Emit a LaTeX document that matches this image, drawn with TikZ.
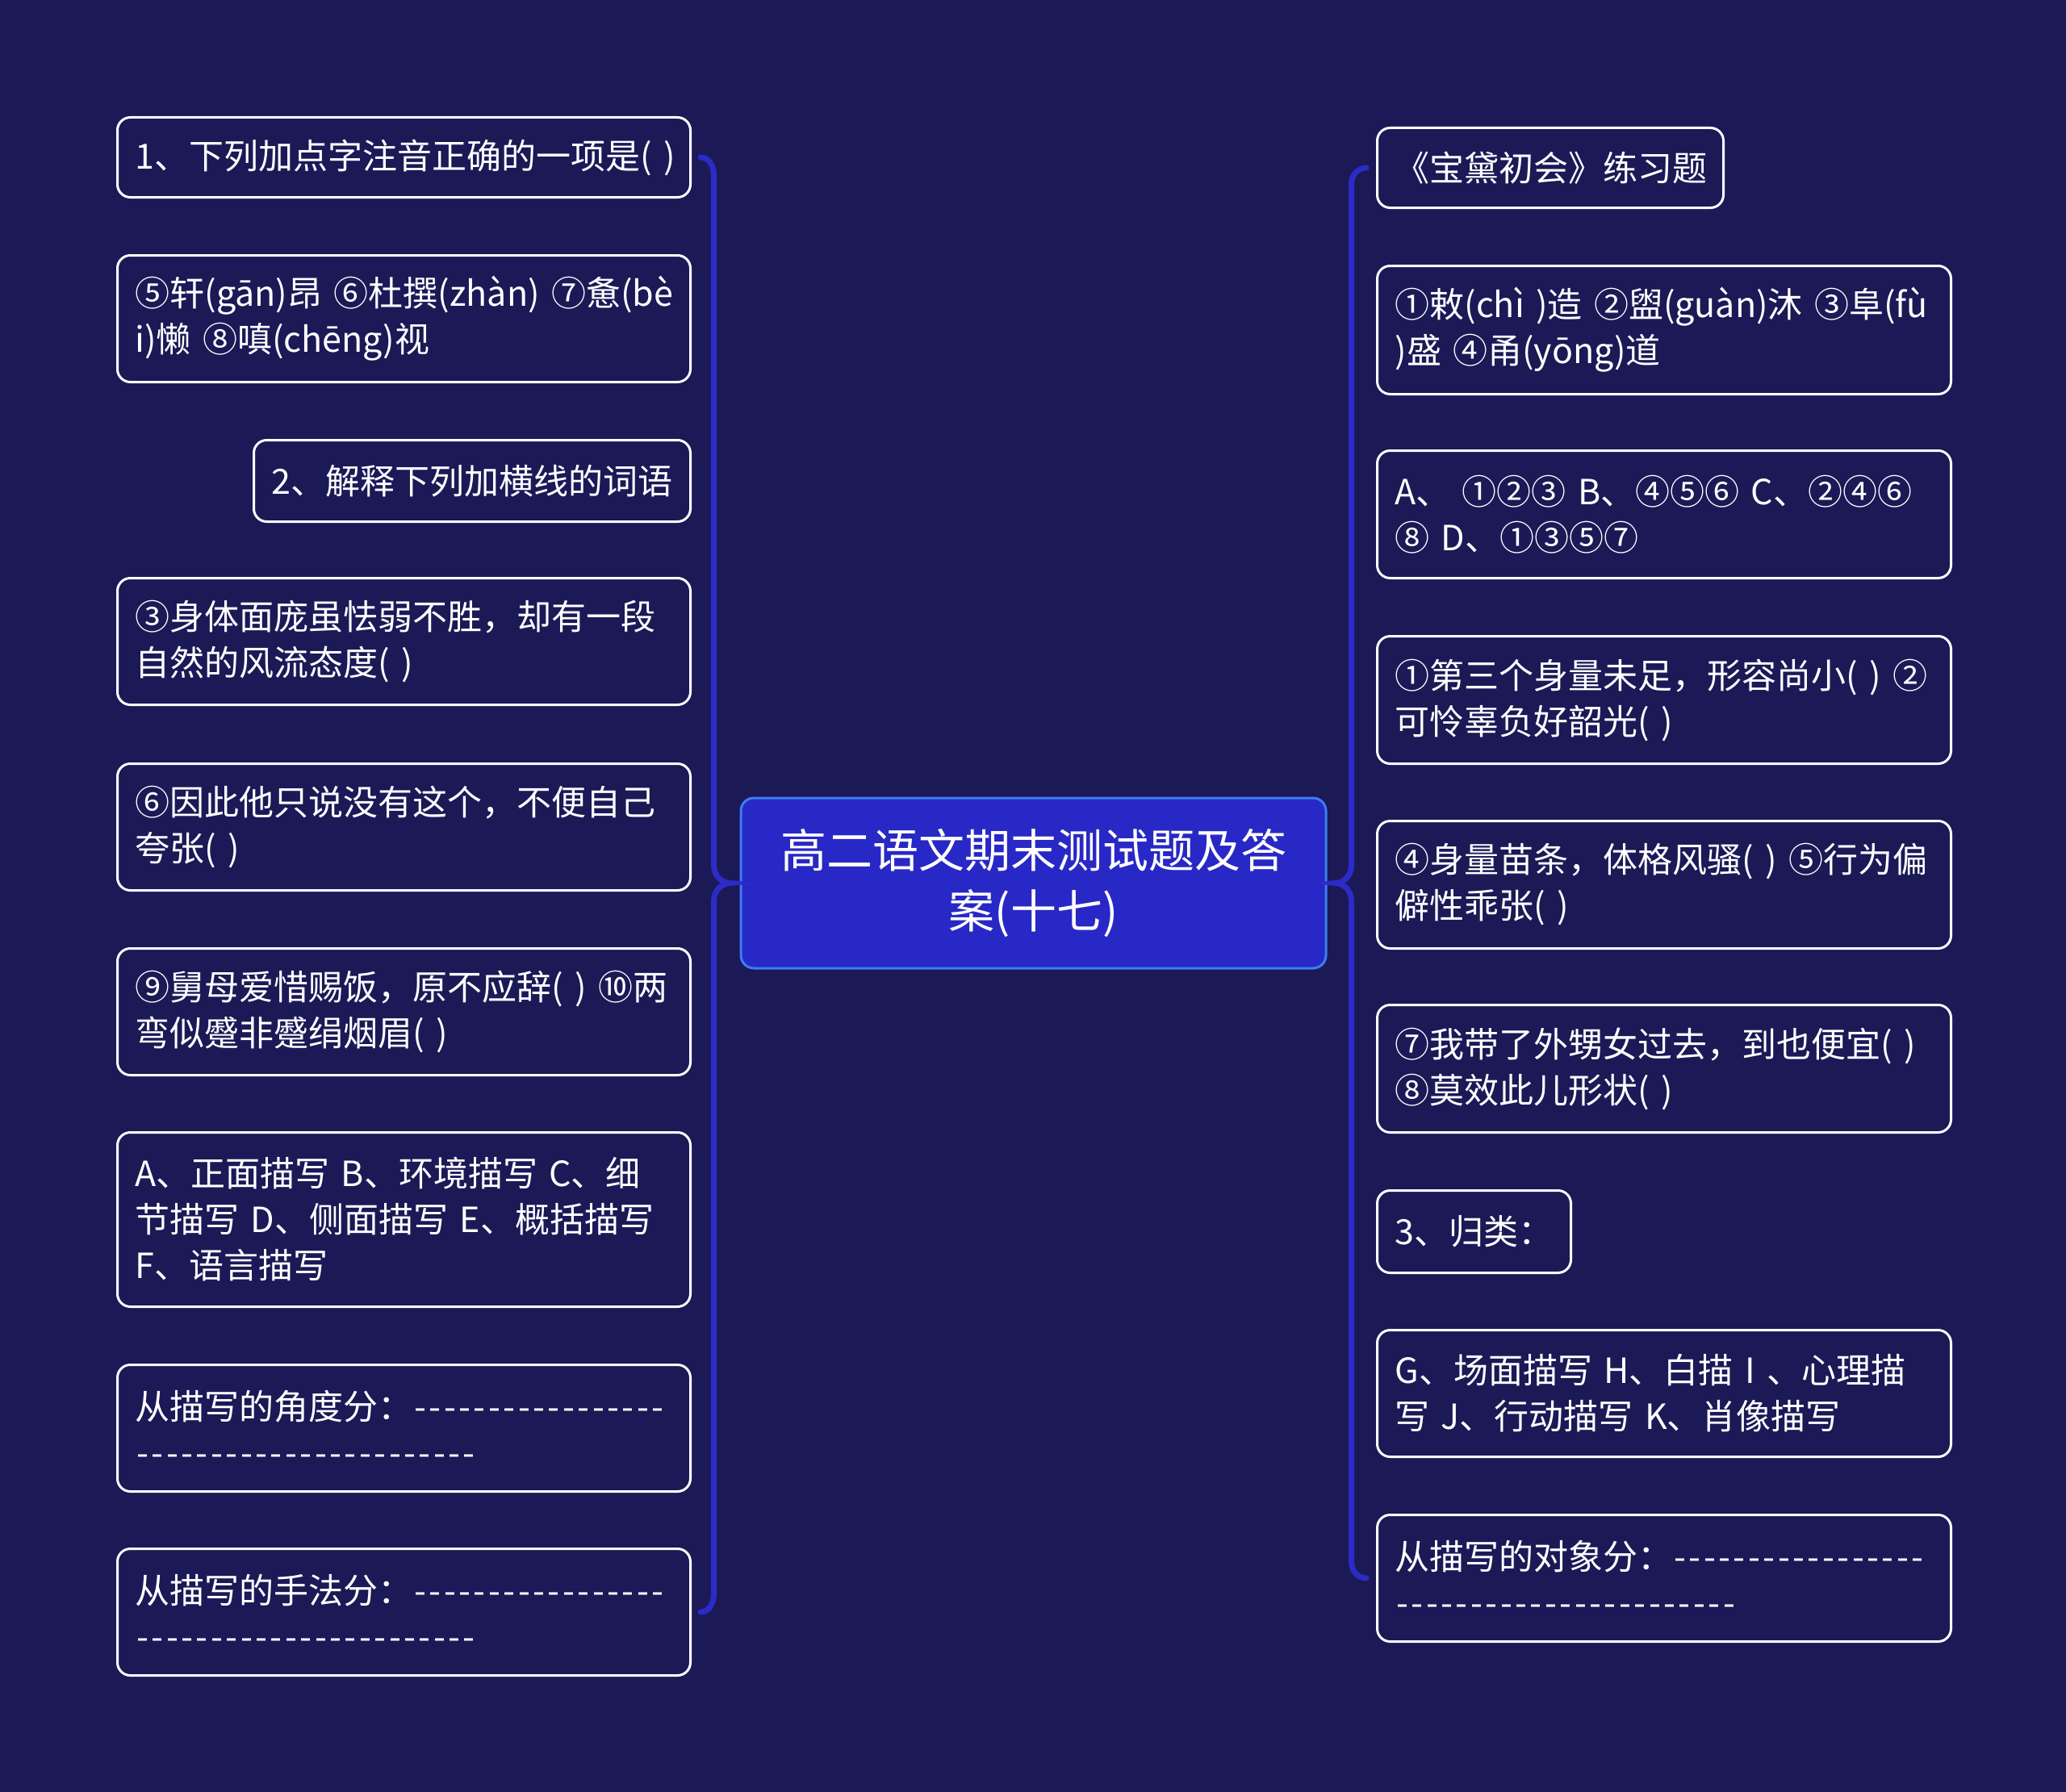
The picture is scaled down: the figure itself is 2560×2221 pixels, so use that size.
\documentclass[tikz,border=0pt]{standalone}
\usepackage{fontspec}
\setmainfont{Noto Sans CJK SC}
\usetikzlibrary{calc}
\definecolor{bg}{HTML}{1B1956}
\definecolor{bracec}{HTML}{2B2BC8}
\definecolor{cfill}{HTML}{2828C6}
\definecolor{cborder}{HTML}{3C7EF2}
\newcommand\dsh{\makebox[18.4pt]{-}}
\newcommand\dashrow[1]{\foreach \i in {1,...,#1}{\dsh}}
\begin{document}
\begin{tikzpicture}[x=1pt,y=-1pt,
  item/.style={draw=white, line width=3pt, rounded corners=16pt, fill=bg, text=white,
    anchor=north west, inner xsep=22pt, inner ysep=0pt, align=left,
    font=\fontsize{43}{57}\selectfont},
  root/.style={draw=cborder, line width=3pt, rounded corners=16pt, fill=cfill, text=white,
    align=center, inner sep=0pt, font=\fontsize{57}{75}\selectfont},
  bracepath/.style={draw=bracec, line width=7pt, line cap=round}]
\fill[bg] (0,0) rectangle (2560,2221);
\useasboundingbox (0,0) rectangle (2560,2221);

% centre
\node[root, minimum width=725pt, minimum height=211pt] (C) at (1280.5,1094.5)
  {高二语文期末测试题及答\\案(十七)};

% left column
\node[item, text width=666pt, minimum height=99pt] (L1) at (144,144) {1、下列加点字注音正确的一项是(~)};
\node[item, text width=666pt, minimum height=157pt] (L2) at (144,315) {⑤轩(gān)昂~⑥杜撰(zhàn)~⑦惫(bè\\i)懒~⑧嗔(chēng)视};
\node[item, text width=497pt, minimum height=101pt] (L3) at (313,544) {2、解释下列加横线的词语};
\node[item, text width=666pt, minimum height=157pt] (L4) at (144,715) {③身体面庞虽怯弱不胜，却有一段\\自然的风流态度(~)};
\node[item, text width=666pt, minimum height=157pt] (L5) at (144,945) {⑥因此他只说没有这个，不便自己\\夸张(~)};
\node[item, text width=666pt, minimum height=157pt] (L6) at (144,1174) {⑨舅母爱惜赐饭，原不应辞(~)~⑩两\\弯似蹙非蹙绢烟眉(~)};
\node[item, text width=666pt, minimum height=216pt] (L7) at (144,1402) {A、正面描写~B、环境描写~C、细\\节描写~D、侧面描写~E、概括描写\\F、语言描写};
\node[item, text width=666pt, minimum height=157pt] (L8) at (144,1690) {从描写的角度分：\dashrow{17}\\\dashrow{23}};
\node[item, text width=666pt, minimum height=157pt] (L9) at (144,1918) {从描写的手法分：\dashrow{17}\\\dashrow{23}};

% right column
\node[item, text width=385pt, minimum height=99pt] (R1) at (1705,157) {《宝黛初会》练习题};
\node[item, text width=667pt, minimum height=159pt] (R2) at (1705,328) {①敕(chì~)造~②盥(guàn)沐~③阜(fù\\)盛~④甬(yōng)道};
\node[item, text width=667pt, minimum height=158pt] (R3) at (1705,557) {A、~①②③~B、④⑤⑥~C、②④⑥\\⑧~D、①③⑤⑦};
\node[item, text width=667pt, minimum height=158pt] (R4) at (1705,787) {①第三个身量未足，形容尚小(~)~②\\可怜辜负好韶光(~)};
\node[item, text width=667pt, minimum height=158pt] (R5) at (1705,1016) {④身量苗条，体格风骚(~)~⑤行为偏\\僻性乖张(~)};
\node[item, text width=667pt, minimum height=158pt] (R6) at (1705,1244) {⑦我带了外甥女过去，到也便宜(~)\\⑧莫效此儿形状(~)};
\node[item, text width=196pt, minimum height=102pt] (R7) at (1705,1474) {3、归类：};
\node[item, text width=667pt, minimum height=157pt] (R8) at (1705,1647) {G、场面描写~H、白描~I~、心理描\\写~J、行动描写~K、肖像描写};
\node[item, text width=667pt, minimum height=157pt] (R9) at (1705,1876) {从描写的对象分：\dashrow{17}\\\dashrow{23}};

% braces
\coordinate (lb) at ($(C.west)+(-32,0)$);
\draw[bracepath] ($(L1.east)+(11,0)$) to[out=0,in=90] ($(L1.east -| lb)+(0,22)$)
  -- ($(lb)+(0,-22)$) to[out=-90,in=180] ($(C.west)+(-11,0)$)
  to[out=180,in=90] ($(lb)+(0,22)$)
  -- ($(L9.east -| lb)+(0,-22)$) to[out=-90,in=0] ($(L9.east)+(11,0)$);
\coordinate (rb) at ($(C.east)+(30,0)$);
\draw[bracepath] ($(R1.west)+(-12,0)$) to[out=180,in=90] ($(R1.west -| rb)+(0,20)$)
  -- ($(rb)+(0,-22)$) to[out=-90,in=0] ($(C.east)+(10,0)$)
  to[out=0,in=90] ($(rb)+(0,22)$)
  -- ($(R9.west -| rb)+(0,-20)$) to[out=-90,in=180] ($(R9.west)+(-12,0)$);
\end{tikzpicture}
\end{document}
